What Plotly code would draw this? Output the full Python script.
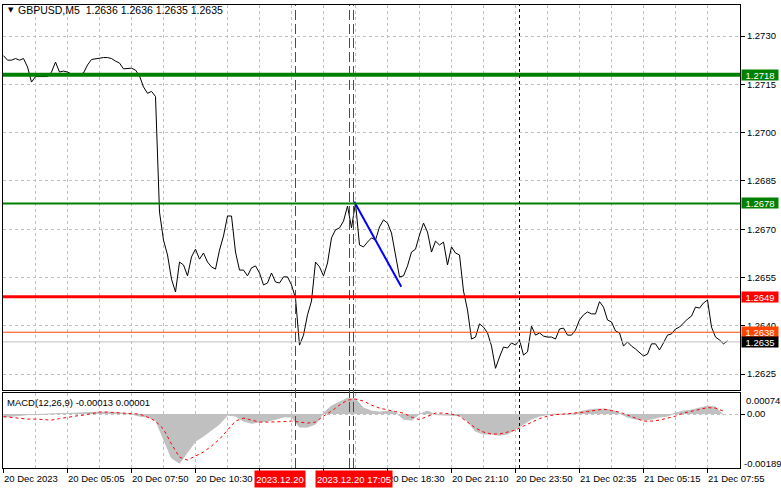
import plotly.graph_objects as go

W, H = 781, 489

# ---------------- data ----------------
# GBPUSD M5 closes, one value every 2 bars (bar 0 = first bar on screen)
close = [
    1.27239, 1.27225, 1.27225, 1.27230, 1.27225, 1.27230, 1.27204, 1.27157, 1.27174, 1.27174,
    1.27174, 1.27174, 1.27188, 1.27219, 1.27188, 1.27191, 1.27188, 1.27182, 1.27182, 1.27182,
    1.27185, 1.27210, 1.27227, 1.27229, 1.27232, 1.27233, 1.27233, 1.27230, 1.27222, 1.27216,
    1.27198, 1.27200, 1.27200, 1.27194, 1.27176, 1.27142, 1.27122, 1.27128, 1.27112, 1.26753,
    1.26666, 1.26620, 1.26545, 1.26505, 1.26598, 1.26589, 1.26555, 1.26614, 1.26638, 1.26607,
    1.26626, 1.26598, 1.26583, 1.26576, 1.26635, 1.26679, 1.26741, 1.26741, 1.26629, 1.26573,
    1.26573, 1.26555, 1.26580, 1.26586, 1.26564, 1.26527, 1.26533, 1.26564, 1.26536, 1.26533,
    1.26552, 1.26552, 1.26527, 1.26486, 1.26340, 1.26371, 1.26434, 1.26477, 1.26598, 1.26583,
    1.26555, 1.26595, 1.26673, 1.26698, 1.26704, 1.26725, 1.26772, 1.26704, 1.26782, 1.26651,
    1.26645, 1.26660, 1.26673, 1.26666, 1.26707, 1.26729, 1.26719, 1.26688, 1.26620, 1.26552,
    1.26555, 1.26586, 1.26629, 1.26638, 1.26682, 1.26719, 1.26691, 1.26629, 1.26663, 1.26651,
    1.26660, 1.26589, 1.26645, 1.26626, 1.26620, 1.26508, 1.26449, 1.26359, 1.26365, 1.26406,
    1.26396, 1.26378, 1.26337, 1.26268, 1.26303, 1.26334, 1.26331, 1.26347, 1.26340, 1.26356,
    1.26309, 1.26319, 1.26399, 1.26371, 1.26378, 1.26368, 1.26365, 1.26365, 1.26359, 1.26390,
    1.26393, 1.26371, 1.26371, 1.26387, 1.26418, 1.26434, 1.26443, 1.26437, 1.26437, 1.26475,
    1.26458, 1.26418, 1.26412, 1.26384, 1.26378, 1.26337, 1.26350, 1.26337, 1.26328, 1.26316,
    1.26306, 1.26312, 1.26344, 1.26344, 1.26325, 1.26347, 1.26371, 1.26375, 1.26390, 1.26396,
    1.26409, 1.26421, 1.26430, 1.26458, 1.26455, 1.26471, 1.26480, 1.26396, 1.26365, 1.26356,
    1.26344, 1.26353,
]
price_bars = list(range(0, 2 * len(close), 2))

# MACD(12,26,9): main (histogram) and signal, one value every 4 bars
macd_hist = [
    -0.000105, -0.00007, -0.000035, -0.000018, -0.000018, 0.0, 0.0, 0.000018, 0.000018, 0.000035,
    0.000035, 0.000053, 0.00007, 0.00007, 0.000053, 0.000035, 0.0, -0.00007, -0.000105, -0.00021,
    -0.00091, -0.00154, -0.00172, -0.00133, -0.00095, -0.00077, -0.00056, -0.00035, -0.000035, -0.00007,
    -0.000245, -0.00032, -0.00028, -0.000245, -0.00018, -0.0001, -0.0001, -0.000456, -0.000456, -0.00035,
    0.000035, 0.00028, 0.00042, 0.00056, 0.000526, 0.00021, 0.000105, 0.00007, 0.000105, 0.00007,
    -0.000175, -0.00021, 0.0, 0.000105, -0.000018, -0.000035, -0.000035, -0.000053, -0.000245, -0.0006,
    -0.0007, -0.0007, -0.00074, -0.0007, -0.00053, -0.00035, -0.000175, -0.00007, -0.000018, 0.0,
    0.0, 0.0, 0.00007, 0.00014, 0.000175, 0.000175, 0.00014, 0.000035, -0.000105, -0.000175,
    -0.00021, -0.000175, -0.000105, -0.00007, 0.000035, 0.000105, 0.00014, 0.00021, 0.00028, 0.000245,
    -0.000035,
]
macd_signal = [
    -0.000088, -0.000123, -0.000158, -0.000175, -0.000175, -0.000193, -0.00021, -0.000158, -0.000105, -0.00007,
    -0.000035, 0.000018, 0.00007, 0.00007, 0.000053, 0.000035, 0.000035, 0.0, -0.000105, -0.000245,
    -0.000526, -0.00105, -0.00151, -0.00161, -0.00147, -0.00133, -0.00112, -0.00088, -0.000561, -0.000245,
    -0.00014, -0.00021, -0.00028, -0.00028, -0.00028, -0.000263, -0.000245, -0.00028, -0.000315, -0.00028,
    -0.00007, 0.000105, 0.000316, 0.000491, 0.000526, 0.000456, 0.000316, 0.00021, 0.00014, 0.000088,
    0.000035, -0.000105, -0.000193, -0.00007, 0.000035, 0.000035, 0.0, -0.00007, -0.00028, -0.00049,
    -0.00063, -0.0007, -0.0007, -0.00063, -0.000561, -0.00042, -0.00028, -0.000158, -0.00007, -0.000018,
    0.0, 0.000018, 0.000053, 0.000088, 0.00014, 0.000175, 0.000123, 0.00007, -0.000035, -0.00014,
    -0.000245, -0.000245, -0.00021, -0.00014, -0.00007, 0.000035, 0.000105, 0.000175, 0.000228, 0.00021,
    0.000105,
]
macd_bars = list(range(0, 4 * len(macd_hist), 4))

# time axis labels (bar index -> text)
time_label_bars = [0, 32, 64, 96, 192, 224, 256, 288, 320, 352]
time_labels = ["20 Dec 2023", "20 Dec 05:05", "20 Dec 07:50", "20 Dec 10:30",
               "20 Dec 18:30", "20 Dec 21:10", "20 Dec 23:50", "21 Dec 02:35",
               "21 Dec 05:15", "21 Dec 07:55"]

price_ticks = [1.2625, 1.2640, 1.2655, 1.2670, 1.2685, 1.2700, 1.2715, 1.2730]

# horizontal levels
level_prices = [1.2718, 1.2678, 1.2649, 1.2638, 1.2635]
level_colors = ["#008000", "#008000", "#ff0000", "#ff4500", "#c0c0c0"]
level_widths = [4, 2, 3, 1, 1]
level_label_bg = ["#008000", "#008000", "#ff0000", "#ff4500", "#000000"]

# vertical lines (bar index)
vline_bars = [146, 173, 175, 258]
vline_colors = ["#ff0000", "#ff0000", "#ff0000", "#000000"]
vline_dash = ["10px,4px", "10px,4px", "10px,4px", "3px,3px"]

# blue trend line
trend_bars = [175.4, 198.9]
trend_prices = [1.26785, 1.26521]

title_text = "GBPUSD,M5\u00a0\u00a01.2636 1.2636 1.2635 1.2635"
macd_title = "MACD(12,26,9) -0.00013 0.00001"
macd_max, macd_min = 0.00074, -0.00189

# ---------------- layout helpers ----------------
FONT = "Liberation Sans"
FS = 9.5
LEFT, RIGHT = 3, 740
MAIN_TOP, MAIN_BOT = 5, 390
MACD_TOP, MACD_BOT = 393, 468


def py(pix):
    return 1 - pix / H


def bar_at(pix):
    return (pix - 3.5) / 2


x_range = [bar_at(LEFT), bar_at(RIGHT)]
GRID = "#c0c0c0"

fig = go.Figure()

fig.add_trace(go.Scatter(x=price_bars, y=close, mode="lines",
                         line=dict(color="black", width=1), xaxis="x", yaxis="y",
                         hoverinfo="skip"))
fig.add_trace(go.Scatter(x=trend_bars, y=trend_prices, mode="lines",
                         line=dict(color="#0000ff", width=2), xaxis="x", yaxis="y",
                         hoverinfo="skip"))
fig.add_trace(go.Scatter(x=macd_bars, y=macd_hist, mode="lines", fill="tozeroy",
                         fillcolor="#c0c0c0", line=dict(color="#c0c0c0", width=1),
                         xaxis="x2", yaxis="y2", hoverinfo="skip"))
fig.add_trace(go.Scatter(x=macd_bars, y=macd_signal, mode="lines",
                         line=dict(color="#ff0000", width=1, dash="dot"),
                         xaxis="x2", yaxis="y2", hoverinfo="skip"))

shapes = []
for p, c, w in zip(level_prices, level_colors, level_widths):
    shapes.append(dict(type="line", xref="x domain", x0=0, x1=1, yref="y", y0=p, y1=p,
                       line=dict(color=c, width=w), layer="above"))
for b, c, d in zip(vline_bars, vline_colors, vline_dash):
    shapes.append(dict(type="line", xref="x", x0=b, x1=b, yref="paper",
                       y0=py(MACD_BOT), y1=py(MAIN_TOP),
                       line=dict(color=c, width=1, dash=d), layer="above"))

annotations = []
# title
annotations.append(dict(text="\u25bc", x=6 / W, y=py(10), xref="paper", yref="paper",
                        xanchor="left", yanchor="middle", showarrow=False,
                        font=dict(family="DejaVu Sans", size=7, color="black")))
annotations.append(dict(text=title_text, x=16 / W, y=py(10), xref="paper", yref="paper",
                        xanchor="left", yanchor="middle", showarrow=False,
                        font=dict(family=FONT, size=10.5, color="black")))
annotations.append(dict(text=macd_title, x=5 / W, y=py(402), xref="paper", yref="paper",
                        xanchor="left", yanchor="middle", showarrow=False,
                        font=dict(family=FONT, size=FS, color="black")))
# macd scale labels
annotations.append(dict(text="0.00074", x=744 / W, y=py(400), xref="paper", yref="paper",
                        xanchor="left", yanchor="middle", showarrow=False,
                        font=dict(family=FONT, size=FS, color="black")))
annotations.append(dict(text="-0.00189", x=742 / W, y=py(463), xref="paper", yref="paper",
                        xanchor="left", yanchor="middle", showarrow=False,
                        font=dict(family=FONT, size=FS, color="black")))
# time labels
for b, t in zip(time_label_bars, time_labels):
    annotations.append(dict(text=t, x=b, xref="x2", y=py(478), yref="paper",
                            xanchor="left", yanchor="middle", xshift=-2, showarrow=False,
                            font=dict(family=FONT, size=FS, color="black")))
# red vertical-line time boxes
annotations.append(dict(text="2023.12.20", x=bar_at(280), xref="x2", y=py(479), yref="paper",
                        xanchor="center", yanchor="middle", showarrow=False,
                        bgcolor="#ff0000", width=50, height=16, borderpad=0,
                        font=dict(family=FONT, size=FS, color="white")))
annotations.append(dict(text="2023.12.20 17:05", x=bar_at(354), xref="x2", y=py(479), yref="paper",
                        xanchor="center", yanchor="middle", showarrow=False,
                        bgcolor="#ff0000", width=76, height=16, borderpad=0,
                        font=dict(family=FONT, size=FS, color="white")))
# price level labels
for p, bg in zip(level_prices, level_label_bg):
    annotations.append(dict(text=f"{p:.4f}", x=741 / W, xref="paper", y=p, yref="y",
                            xanchor="left", yanchor="middle", showarrow=False,
                            bgcolor=bg, width=36, height=10, borderpad=0,
                            font=dict(family=FONT, size=FS, color="white")))

axis_common = dict(showline=True, mirror=True, linecolor="black", linewidth=1)

fig.update_layout(
    width=W, height=H,
    margin=dict(l=0, r=0, t=0, b=0, autoexpand=False),
    paper_bgcolor="white", plot_bgcolor="white",
    showlegend=False,
    font=dict(family=FONT, size=FS, color="black"),
    xaxis=dict(domain=[LEFT / W, RIGHT / W], range=x_range, anchor="y",
               tickmode="linear", tick0=0, dtick=16, showticklabels=False, ticks="",
               showgrid=True, gridcolor=GRID, griddash="3px,3px", gridwidth=1,
               zeroline=False, automargin=False, **axis_common),
    yaxis=dict(domain=[py(MAIN_BOT), py(MAIN_TOP)],
               range=[1.2730 - (MAIN_BOT - 36) / 32200, 1.2730 + (36 - MAIN_TOP) / 32200],
               side="right", anchor="x", tickmode="array", tickvals=price_ticks,
               tickformat=".4f", ticks="outside", ticklen=4, tickcolor="black",
               showgrid=True, gridcolor=GRID, griddash="3px,3px", zeroline=False,
               automargin=False,
               tickfont=dict(family=FONT, size=FS, color="black"), **axis_common),
    xaxis2=dict(domain=[LEFT / W, RIGHT / W], range=x_range, anchor="y2", matches="x",
                tickmode="linear", tick0=0, dtick=32, showticklabels=False,
                ticks="outside", ticklen=4, tickcolor="black",
                showgrid=True, gridcolor=GRID, griddash="3px,3px",
                minor=dict(tick0=16, dtick=32, showgrid=True, gridcolor=GRID,
                           griddash="3px,3px", ticks=""),
                zeroline=False, automargin=False, **axis_common),
    yaxis2=dict(domain=[py(MACD_BOT), py(MACD_TOP)], range=[macd_min, macd_max],
                side="right", anchor="x2", tickmode="array", tickvals=[0.0],
                ticktext=["0.00"], ticks="outside", ticklen=4, tickcolor="black",
                showgrid=True, gridcolor=GRID, griddash="3px,3px", zeroline=False,
                automargin=False,
                tickfont=dict(family=FONT, size=FS, color="black"), **axis_common),
    shapes=shapes,
    annotations=annotations,
)

fig.write_html("out.html", config={"displayModeBar": False},
               post_script="document.body.style.margin='0';document.body.style.overflow='hidden';")
